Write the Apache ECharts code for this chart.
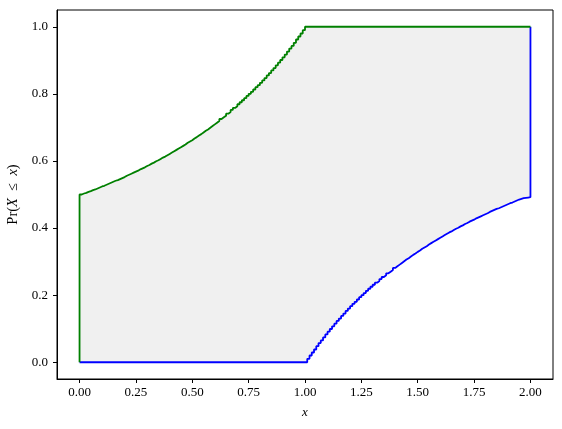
<!DOCTYPE html>
<html>
<head>
<meta charset="utf-8">
<script src="https://cdn.jsdelivr.net/npm/echarts@6/dist/echarts.min.js"></script>
<style>
  html, body { margin: 0; padding: 0; background: #fff; }
  #chart { width: 562px; height: 429px; }
</style>
</head>
<body>
<div id="chart"></div>
<script>
// upper bound (green) at x = 0, 0.01, ... 1.00
var upperX = [0.00, 0.01, 0.02, 0.03, 0.04, 0.05, 0.06, 0.07, 0.08, 0.09,
    0.10, 0.11, 0.12, 0.13, 0.14, 0.15, 0.16, 0.17, 0.18, 0.19,
    0.20, 0.21, 0.22, 0.23, 0.24, 0.25, 0.26, 0.27, 0.28, 0.29,
    0.30, 0.31, 0.32, 0.33, 0.34, 0.35, 0.36, 0.37, 0.38, 0.39,
    0.40, 0.41, 0.42, 0.43, 0.44, 0.45, 0.46, 0.47, 0.48, 0.49,
    0.50, 0.51, 0.52, 0.53, 0.54, 0.55, 0.56, 0.57, 0.58, 0.59,
    0.60, 0.61, 0.62, 0.63, 0.64, 0.65, 0.66, 0.67, 0.68, 0.69,
    0.70, 0.71, 0.72, 0.73, 0.74, 0.75, 0.76, 0.77, 0.78, 0.79,
    0.80, 0.81, 0.82, 0.83, 0.84, 0.85, 0.86, 0.87, 0.88, 0.89,
    0.90, 0.91, 0.92, 0.93, 0.94, 0.95, 0.96, 0.97, 0.98, 0.99, 1.00];
var upperY = [0.500, 0.503, 0.505, 0.508, 0.510, 0.513, 0.515, 0.518, 0.521, 0.524,
    0.526, 0.529, 0.532, 0.535, 0.538, 0.541, 0.543, 0.546, 0.549, 0.552,
    0.556, 0.559, 0.562, 0.565, 0.568, 0.571, 0.575, 0.578, 0.581, 0.585,
    0.588, 0.592, 0.595, 0.599, 0.602, 0.606, 0.610, 0.613, 0.617, 0.621,
    0.625, 0.629, 0.633, 0.637, 0.641, 0.645, 0.649, 0.654, 0.658, 0.662,
    0.667, 0.671, 0.676, 0.680, 0.685, 0.690, 0.694, 0.699, 0.704, 0.709,
    0.714, 0.719, 0.725, 0.730, 0.735, 0.741, 0.746, 0.752, 0.758, 0.763,
    0.769, 0.775, 0.781, 0.787, 0.794, 0.800, 0.806, 0.813, 0.820, 0.826,
    0.833, 0.840, 0.847, 0.855, 0.862, 0.870, 0.877, 0.885, 0.893, 0.901,
    0.909, 0.917, 0.926, 0.935, 0.943, 0.952, 0.962, 0.971, 0.980, 0.990, 1.000];

var lowerX = [1.00, 1.01, 1.02, 1.03, 1.04, 1.05, 1.06, 1.07, 1.08, 1.09,
    1.10, 1.11, 1.12, 1.13, 1.14, 1.15, 1.16, 1.17, 1.18, 1.19,
    1.20, 1.21, 1.22, 1.23, 1.24, 1.25, 1.26, 1.27, 1.28, 1.29,
    1.30, 1.31, 1.32, 1.33, 1.34, 1.35, 1.36, 1.37, 1.38, 1.39,
    1.40, 1.41, 1.42, 1.43, 1.44, 1.45, 1.46, 1.47, 1.48, 1.49,
    1.50, 1.51, 1.52, 1.53, 1.54, 1.55, 1.56, 1.57, 1.58, 1.59,
    1.60, 1.61, 1.62, 1.63, 1.64, 1.65, 1.66, 1.67, 1.68, 1.69,
    1.70, 1.71, 1.72, 1.73, 1.74, 1.75, 1.76, 1.77, 1.78, 1.79,
    1.80, 1.81, 1.82, 1.83, 1.84, 1.85, 1.86, 1.87, 1.88, 1.89,
    1.90, 1.91, 1.92, 1.93, 1.94, 1.95, 1.96, 1.97, 1.98, 1.99, 2.00];
var lowerY = [0.000, 0.010, 0.020, 0.029, 0.038, 0.048, 0.057, 0.065, 0.074, 0.083,
    0.091, 0.099, 0.107, 0.115, 0.123, 0.130, 0.138, 0.145, 0.153, 0.160,
    0.167, 0.174, 0.180, 0.187, 0.194, 0.200, 0.206, 0.213, 0.219, 0.225,
    0.231, 0.237, 0.242, 0.248, 0.254, 0.259, 0.265, 0.270, 0.275, 0.281,
    0.286, 0.291, 0.296, 0.301, 0.306, 0.310, 0.315, 0.320, 0.324, 0.329,
    0.333, 0.338, 0.342, 0.346, 0.351, 0.355, 0.359, 0.363, 0.367, 0.371,
    0.375, 0.379, 0.383, 0.387, 0.390, 0.394, 0.398, 0.401, 0.405, 0.408,
    0.412, 0.415, 0.419, 0.422, 0.425, 0.429, 0.432, 0.435, 0.438, 0.441,
    0.444, 0.448, 0.451, 0.454, 0.457, 0.459, 0.462, 0.465, 0.468, 0.471,
    0.474, 0.476, 0.479, 0.482, 0.485, 0.487, 0.489, 0.490, 0.491, 0.492, 0.492];

var xTicks = [0, 0.25, 0.5, 0.75, 1, 1.25, 1.5, 1.75, 2];
var yTicks = [0, 0.2, 0.4, 0.6, 0.8, 1.0];

var FONT = 'Liberation Serif';

// full outlines: green climbs x=0 then runs across the top, blue runs along 0 then climbs x=2
var greenData = [[0, 0]];
upperX.forEach(function (x, i) { greenData.push([x, upperY[i]]); });
greenData.push([2, 1]);

var blueData = [[0, 0]];
lowerX.forEach(function (x, i) { blueData.push([x, lowerY[i]]); });
blueData.push([2, 1]);

// step-end path: horizontal first, then vertical
function stepPoints(data, api) {
    var pts = [];
    data.forEach(function (d, i) {
        if (i > 0) {
            pts.push(api.coord([d[0], data[i - 1][1]]));
        }
        pts.push(api.coord(d));
    });
    return pts;
}

var chart = echarts.init(document.getElementById('chart'), null, { renderer: 'canvas' });

chart.setOption({
    animation: false,
    grid: {
        left: 57, right: 9, top: 10, bottom: 50,
        outerBoundsMode: 'none',
        containLabel: false,
        show: true, borderColor: '#000', borderWidth: 1
    },
    xAxis: {
        type: 'value',
        min: -0.1, max: 2.1,
        name: 'x',
        nameLocation: 'middle',
        nameGap: 27,
        nameTextStyle: { fontFamily: FONT, fontStyle: 'italic', fontSize: 13, color: '#000' },
        axisLine: { show: true, onZero: false, lineStyle: { color: '#000', width: 1 } },
        axisTick: { show: true, length: 4, lineStyle: { color: '#000' }, customValues: xTicks },
        axisLabel: {
            fontFamily: FONT, fontSize: 13, color: '#000', margin: 7,
            customValues: xTicks,
            formatter: function (v) { return v.toFixed(2); }
        },
        splitLine: { show: false }
    },
    yAxis: {
        type: 'value',
        min: -0.05, max: 1.05,
        name: '{r|Pr(}{i|X}{r|  ≤  }{i|x}{r|)}',
        nameLocation: 'middle',
        nameGap: 26,
        nameTextStyle: {
            rich: {
                r: { fontFamily: FONT, fontSize: 14.5, color: '#000' },
                i: { fontFamily: FONT, fontSize: 14.5, fontStyle: 'italic', color: '#000' }
            }
        },
        axisLine: { show: true, onZero: false, lineStyle: { color: '#000', width: 1 } },
        axisTick: { show: true, length: 4, lineStyle: { color: '#000' }, customValues: yTicks },
        axisLabel: {
            fontFamily: FONT, fontSize: 13, color: '#000', margin: 9,
            customValues: yTicks,
            formatter: function (v) { return v.toFixed(1); }
        },
        splitLine: { show: false }
    },
    series: [
        {
            type: 'custom',
            name: 'band',
            data: [[0, 0]],
            silent: true,
            z: 1,
            renderItem: function (params, api) {
                var top = stepPoints(greenData, api);
                var bottom = stepPoints(blueData, api).reverse();
                return {
                    type: 'polygon',
                    shape: { points: top.concat(bottom) },
                    style: { fill: '#f0f0f0', stroke: null }
                };
            }
        },
        {
            type: 'line',
            name: 'lower',
            data: blueData,
            step: 'end',
            showSymbol: false,
            z: 2,
            lineStyle: { color: '#0000ff', width: 1.8 }
        },
        {
            type: 'line',
            name: 'upper',
            data: greenData,
            step: 'end',
            showSymbol: false,
            z: 3,
            lineStyle: { color: '#008000', width: 1.8 }
        }
    ]
});
</script>
</body>
</html>
